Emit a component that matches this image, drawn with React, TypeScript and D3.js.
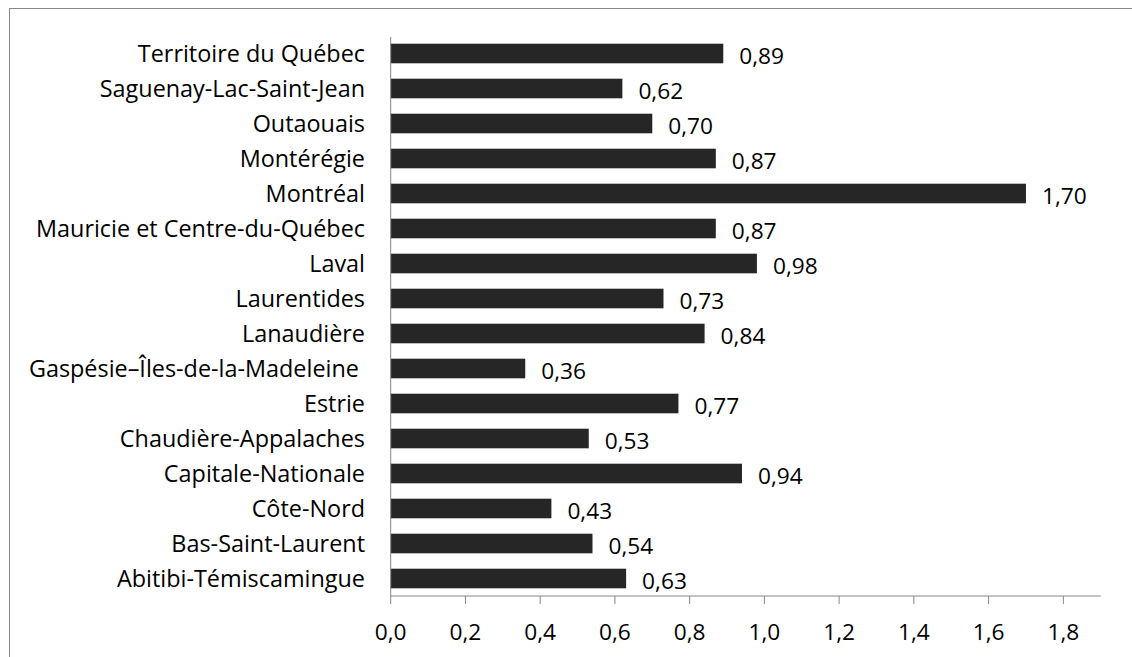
import React from "react";
import * as d3 from "d3";

const categories = [
  "Territoire du Québec",
  "Saguenay-Lac-Saint-Jean",
  "Outaouais",
  "Montérégie",
  "Montréal",
  "Mauricie et Centre-du-Québec",
  "Laval",
  "Laurentides",
  "Lanaudière",
  "Gaspésie–Îles-de-la-Madeleine ",
  "Estrie",
  "Chaudière-Appalaches",
  "Capitale-Nationale",
  "Côte-Nord",
  "Bas-Saint-Laurent",
  "Abitibi-Témiscamingue",
];
const values = [0.89, 0.62, 0.7, 0.87, 1.7, 0.87, 0.98, 0.73, 0.84, 0.36, 0.77, 0.53, 0.94, 0.43, 0.54, 0.63];
const ticks = [0, 0.2, 0.4, 0.6, 0.8, 1.0, 1.2, 1.4, 1.6, 1.8];

const W = 1132;
const H = 657;
const FONT = "'Open Sans', sans-serif";
const FS_CAT = 23.4;
const FS = 22.7;
const fmt = (v: number, d: number) => v.toFixed(d).replace(".", ",");

export default function App() {
  const x = d3.scaleLinear().domain([0, 1.9]).range([390.7, 1100.7]);
  const y = d3.scaleBand<string>().domain(categories).range([36, 596]).paddingInner(0.44).paddingOuter(0.22);
  const axisY = 596;
  const grey = "#868686";
  return (
    <svg width={W} height={H} style={{ position: "absolute", left: 0, top: 0, background: "#fff" }}>
      <rect x={9.5} y={8.5} width={W + 20} height={H + 20} fill="none" stroke={grey} strokeWidth={1} />
      {categories.map((c, i) => {
        const cy = y(c)! + y.bandwidth() / 2;
        return (
          <g key={c}>
            <rect x={x(0)} y={y(c)!} width={x(values[i]) - x(0)} height={y.bandwidth()} fill="#262626" />
            <text
              x={365}
              y={cy + 8}
              textAnchor="end"
              fontFamily={FONT}
              fontSize={FS_CAT}
              fill="#000"
              style={{ whiteSpace: "pre" }}
            >
              {c}
            </text>
            <text x={x(values[i]) + 16} y={cy + 10} fontFamily={FONT} fontSize={FS} fill="#000">
              {fmt(values[i], 2)}
            </text>
          </g>
        );
      })}
      <line x1={x(0)} x2={x(0)} y1={37} y2={axisY} stroke={grey} strokeWidth={1} />
      <line x1={x(0)} x2={1100.7} y1={axisY} y2={axisY} stroke={grey} strokeWidth={1} />
      {ticks.map((t) => (
        <g key={t}>
          <line x1={x(t)} x2={x(t)} y1={axisY} y2={axisY + 8} stroke={grey} strokeWidth={1} />
          <text x={x(t)} y={640} textAnchor="middle" fontFamily={FONT} fontSize={FS} fill="#000">
            {fmt(t, 1)}
          </text>
        </g>
      ))}
    </svg>
  );
}
